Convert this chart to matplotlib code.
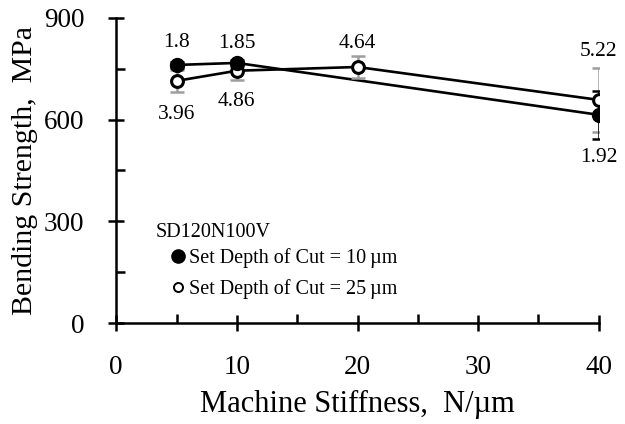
import matplotlib.pyplot as plt
from matplotlib.lines import Line2D
from matplotlib.ticker import MultipleLocator

plt.rcParams['font.family'] = ['Liberation Serif', 'DejaVu Serif']

# Set depth of cut = 10 um (filled)
stiff_10 = [5, 10, 40]
strength_10 = [761, 767, 614]
err_10 = [10, 10, 71]
labels_10 = ["1.8", "1.85", "1.92"]

# Set depth of cut = 25 um (open)
stiff_25 = [5, 10, 20, 40]
strength_25 = [714, 744, 755, 658]
err_25 = [32, 26, 31, 95]
labels_25 = ["3.96", "4.86", "4.64", "5.22"]

fig = plt.figure(figsize=(6.25, 4.24), dpi=100)
ax = fig.add_axes([0.186, 0.238, 0.772, 0.72])

# lines
ax.plot(stiff_10, strength_10, color="black", lw=1.9, zorder=2)
ax.plot(stiff_25, strength_25, color="black", lw=1.9, zorder=2)

# error bars
ax.errorbar(stiff_25, strength_25, yerr=err_25, fmt="none", ecolor="#9e9e9e",
            elinewidth=1.8, capsize=5, capthick=1.8, zorder=3)
ax.errorbar(stiff_10, strength_10, yerr=err_10, fmt="none", ecolor="black",
            elinewidth=1.8, capsize=5, capthick=1.8, zorder=3)

# markers
ax.plot(stiff_25, strength_25, "o", ms=8.5, mfc="white", mec="black", mew=2.2, ls="none", zorder=4)
ax.plot(stiff_10, strength_10, "o", ms=10, mfc="black", mec="black", ls="none", zorder=5)

# value labels (offsets in points)
off_10 = [16, 14, -31]
off_25 = [-24, -22, 17, 35]
for x, y, t, dy in zip(stiff_10, strength_10, labels_10, off_10):
    ax.annotate(t, (x, y), xytext=(0, dy), textcoords="offset points",
                ha="center", va="center", fontsize=15.5)
for x, y, t, dy in zip(stiff_25, strength_25, labels_25, off_25):
    ax.annotate(t, (x, y), xytext=(0, dy), textcoords="offset points",
                ha="center", va="center", fontsize=15.5)

ax.set_xlim(0, 40)
ax.set_ylim(0, 900)
ax.xaxis.set_major_locator(MultipleLocator(10))
ax.xaxis.set_minor_locator(MultipleLocator(5))
ax.yaxis.set_major_locator(MultipleLocator(300))
ax.yaxis.set_minor_locator(MultipleLocator(150))
ax.tick_params(which="major", direction="inout", length=12, width=1.8, labelsize=19.5, pad=17)
ax.tick_params(which="minor", direction="in", length=6.5, width=1.8)
for s in ["top", "right"]:
    ax.spines[s].set_visible(False)
for s in ["left", "bottom"]:
    ax.spines[s].set_linewidth(1.8)

ax.set_xlabel("Machine Stiffness,  N/\u00b5m", fontsize=22, labelpad=7)
ax.set_ylabel("Bending Strength,  MPa", fontsize=21.5, labelpad=4)

# legend
ax.text(0.081, 0.298, "SD120N100V", transform=ax.transAxes, ha="left", va="center", fontsize=14.5)
h_filled = Line2D([], [], marker="o", ls="none", ms=9.5, mfc="black", mec="black")
h_open = Line2D([], [], marker="o", ls="none", ms=6.5, mfc="white", mec="black", mew=1.4)
ax.legend([h_filled, h_open],
          ["Set Depth of Cut = 10\u2009\u00b5m", "Set Depth of Cut = 25\u2009\u00b5m"],
          loc="center left", bbox_to_anchor=(0.116, 0.162), frameon=False,
          fontsize=14.5, handlelength=0.6, handletextpad=0.25, labelspacing=0.55,
          borderpad=0, borderaxespad=0)

fig.savefig("out.png", dpi=100)
